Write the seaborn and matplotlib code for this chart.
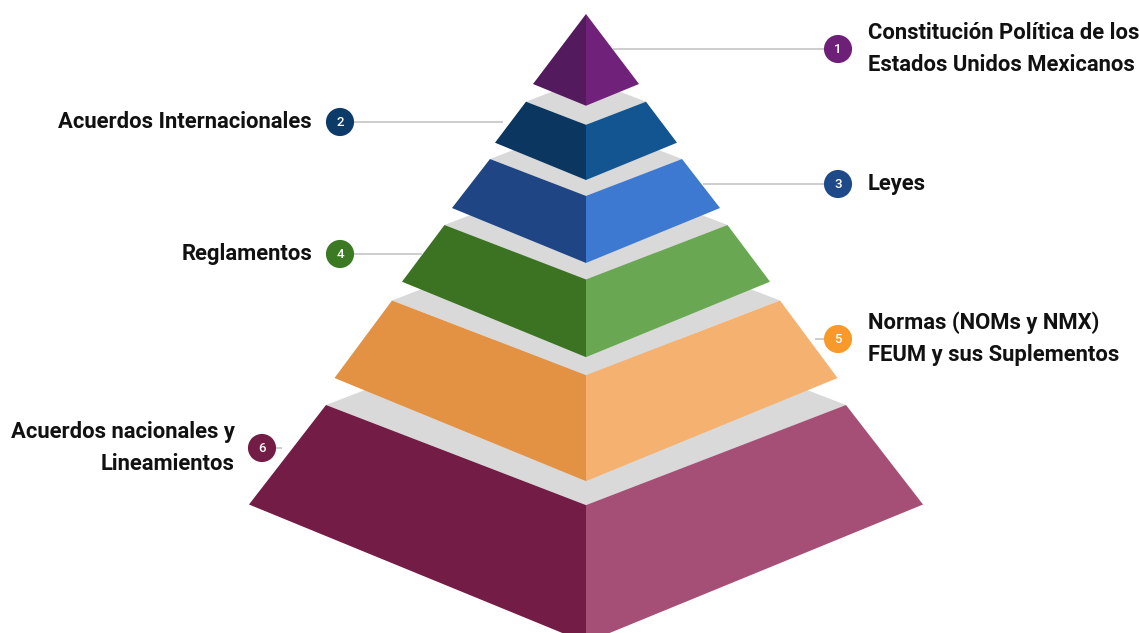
import matplotlib
matplotlib.use("Agg")
import matplotlib.pyplot as plt
import seaborn as sns
import pandas as pd

# ---- data ----
levels = [1, 2, 3, 4, 5, 6]
labels = [
    "Constitución Política de los\nEstados Unidos Mexicanos",
    "Acuerdos Internacionales",
    "Leyes",
    "Reglamentos",
    "Normas (NOMs y NMX)\nFEUM y sus Suplementos",
    "Acuerdos nacionales y\nLineamientos",
]
sides = ["right", "left", "right", "left", "right", "left"]
badge_colors = ["#6e2079", "#0d3b69", "#1f4a8a", "#3b7a22", "#f79a2a", "#731c45"]
left_face = ["#541a5e", "#0b3660", "#1f4585", "#3b7322", "#e39142", "#731c45"]
right_face = ["#70227a", "#135591", "#3d78d1", "#6aa753", "#f4b170", "#a54f76"]
top_face = "#d9d9d9"

# ---- layout (pixel-like coordinates) ----
CX = 586
K_TOP = 0.385
K_BOT = 0.41
tier_top_y = [14, 101.7, 159, 225, 300.5, 405]
tier_top_hw = [0, 60, 96, 141.5, 194, 260]
tier_bot_y = [84, 142.7, 208, 281.7, 378, 504.5]
tier_bot_hw = [53, 91, 134, 184, 251.5, 337]
badge_x = [838, 340, 838, 340, 838, 262]
badge_y = [49, 122, 184, 254, 339, 448]
line_end_x = [613, 503, 703, 422, 815, 282]
text_x = [868, 312, 868, 312, 868, 235]

sns.set_theme(style="white")
plt.rcParams["font.family"] = ["Roboto", "DejaVu Sans"]

fig = plt.figure(figsize=(11.39, 6.33), dpi=100)
ax = fig.add_axes([0, 0, 1, 1])

# connector lines (behind everything)
for bx, by, ex in zip(badge_x, badge_y, line_end_x):
    ax.plot([bx, ex], [by, by], color="#c9c9c9", lw=1.3, zorder=0,
            solid_capstyle="butt")

# pyramid tiers, bottom first so upper tiers overlap
for i in reversed(range(len(levels))):
    yt, ht, yb, hb = tier_top_y[i], tier_top_hw[i], tier_bot_y[i], tier_bot_hw[i]
    z = 1 + (len(levels) - i) * 3
    if ht > 0:
        ax.fill([CX - ht, CX, CX + ht, CX],
                [yt, yt - K_TOP * ht, yt, yt + K_TOP * ht],
                color=top_face, lw=0, zorder=z)
    ax.fill([CX - ht, CX, CX, CX - hb],
            [yt, yt + K_TOP * ht, yb + K_BOT * hb, yb],
            color=left_face[i], lw=0, zorder=z + 1)
    ax.fill([CX, CX + ht, CX + hb, CX],
            [yt + K_TOP * ht, yt, yb, yb + K_BOT * hb],
            color=right_face[i], lw=0, zorder=z + 1)

# badges
df = pd.DataFrame({"x": badge_x, "y": badge_y, "level": [str(l) for l in levels]})
sns.scatterplot(data=df, x="x", y="y", hue="level",
                palette=dict(zip(df["level"], badge_colors)),
                s=410, linewidth=0, legend=False, ax=ax, zorder=30)
ax.set_xlim(0, 1139)
ax.set_ylim(633, 0)
ax.axis("off")

for l, bx, by in zip(levels, badge_x, badge_y):
    ax.text(bx, by + 0.5, str(l), color="white", fontsize=9.5,
            fontweight="medium", ha="center", va="center", zorder=31)

# labels
for lab, tx, by, sd in zip(labels, text_x, badge_y, sides):
    ax.text(tx, by, lab, fontsize=15.8, fontweight="bold", color="#111111",
            ha="left" if sd == "right" else "right", va="center",
            linespacing=1.58, multialignment="left" if sd == "right" else "right",
            zorder=32)

fig.savefig("out.png", dpi=100, facecolor="white")
